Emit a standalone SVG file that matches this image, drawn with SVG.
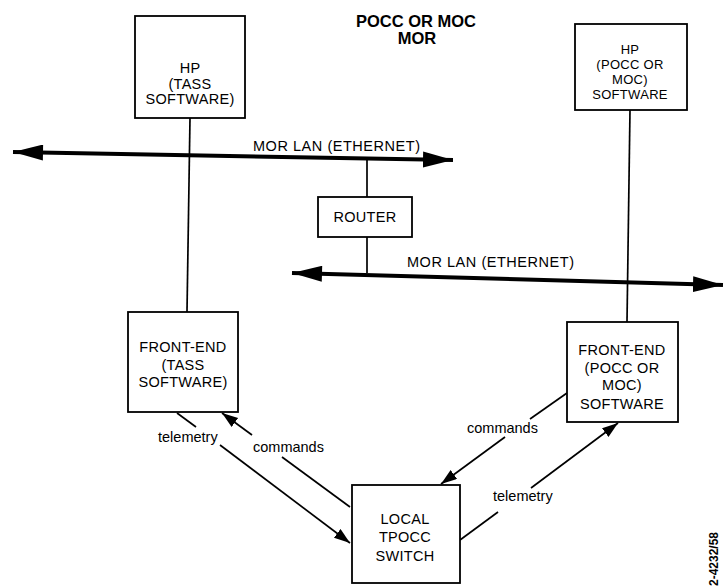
<svg xmlns="http://www.w3.org/2000/svg" width="724" height="588" viewBox="0 0 724 588">
<defs>
<marker id="big" markerUnits="userSpaceOnUse" markerWidth="32" markerHeight="18" refX="30" refY="8" orient="auto">
<path d="M0,0 L30,8 L0,16 Z" fill="#000"/>
</marker>
<marker id="bigs" markerUnits="userSpaceOnUse" markerWidth="32" markerHeight="18" refX="0" refY="8" orient="auto">
<path d="M30,0 L0,8 L30,16 Z" fill="#000"/>
</marker>
<marker id="small" markerUnits="userSpaceOnUse" markerWidth="18" markerHeight="12" refX="16" refY="5.5" orient="auto">
<path d="M0,0 L16,5.5 L0,11 Z" fill="#000"/>
</marker>
</defs>
<style>
.box{fill:#fff;stroke:#000;stroke-width:1.8}
.t{font-family:"Liberation Sans",Arial,sans-serif;font-size:14.5px;fill:#000;text-anchor:middle;letter-spacing:0.3px}
.s{font-size:13px}
.l{font-family:"Liberation Sans",Arial,sans-serif;font-size:14.5px;fill:#000}
.ln{stroke:#000;stroke-width:1.7;fill:none}
.lan{stroke:#000;stroke-width:4;fill:none}
.title{font-family:"Liberation Sans",Arial,sans-serif;font-size:16.5px;font-weight:bold;fill:#000;text-anchor:middle}
</style>
<rect width="724" height="588" fill="#fff"/>
<g id="title">
<text class="title" x="416" y="27">POCC OR MOC</text>
<text class="title" x="417" y="44">MOR</text>
</g>
<g id="connectors">
<line class="ln" x1="190" y1="118" x2="187" y2="312"/>
<line class="ln" x1="630" y1="110" x2="627" y2="322"/>
<line class="ln" x1="367" y1="157" x2="367" y2="197"/>
<line class="ln" x1="367" y1="237" x2="367" y2="273"/>
<line class="lan" x1="13" y1="152" x2="453" y2="160" marker-start="url(#bigs)" marker-end="url(#big)"/>
<line class="lan" x1="292" y1="273" x2="723" y2="285" marker-start="url(#bigs)" marker-end="url(#big)"/>
<text class="l" x="253" y="151" textLength="167">MOR LAN (ETHERNET)</text>
<text class="l" x="407" y="267" textLength="167">MOR LAN (ETHERNET)</text>
<line class="ln" x1="177" y1="413" x2="196" y2="427"/>
<line class="ln" x1="220" y1="445" x2="350" y2="543" marker-end="url(#small)"/>
<text class="l" x="158" y="442">telemetry</text>
<line class="ln" x1="350" y1="507" x2="282" y2="457"/>
<line class="ln" x1="252" y1="435" x2="222" y2="413" marker-end="url(#small)"/>
<text class="l" x="253" y="452">commands</text>
<line class="ln" x1="567" y1="393" x2="530" y2="419"/>
<line class="ln" x1="505" y1="437" x2="441" y2="484" marker-end="url(#small)"/>
<text class="l" x="467" y="433">commands</text>
<line class="ln" x1="460" y1="540" x2="498" y2="512"/>
<line class="ln" x1="531" y1="488" x2="618" y2="423" marker-end="url(#small)"/>
<text class="l" x="493" y="501">telemetry</text>
</g>
<g id="hp-tass">
<rect class="box" x="135" y="16" width="110" height="102"/>
<text class="t" x="190" y="73">HP</text>
<text class="t" x="190" y="89">(TASS</text>
<text class="t" x="190" y="104">SOFTWARE)</text>
</g>
<g id="hp-pocc">
<rect class="box" x="575" y="24" width="112" height="86"/>
<text class="t s" x="630" y="54">HP</text>
<text class="t s" x="630" y="69">(POCC OR</text>
<text class="t s" x="630" y="84">MOC)</text>
<text class="t s" x="630" y="99">SOFTWARE</text>
</g>
<g id="router">
<rect class="box" x="318" y="197" width="94" height="40"/>
<text class="t" x="365" y="222">ROUTER</text>
</g>
<g id="fe-tass">
<rect class="box" x="128" y="312" width="110" height="100"/>
<text class="t" x="183" y="352">FRONT-END</text>
<text class="t" x="183" y="370">(TASS</text>
<text class="t" x="183" y="387">SOFTWARE)</text>
</g>
<g id="fe-pocc">
<rect class="box" x="567" y="322" width="111" height="100"/>
<text class="t" x="622" y="355">FRONT-END</text>
<text class="t" x="622" y="373">(POCC OR</text>
<text class="t" x="622" y="390">MOC)</text>
<text class="t" x="622" y="409">SOFTWARE</text>
</g>
<g id="switch">
<rect class="box" x="352" y="485" width="108" height="98"/>
<text class="t" x="405" y="524">LOCAL</text>
<text class="t" x="405" y="542">TPOCC</text>
<text class="t" x="405" y="561">SWITCH</text>
</g>
<text x="0" y="0" transform="translate(718,586) rotate(-90)" font-family="Liberation Sans, Arial, sans-serif" font-size="12" font-weight="bold" fill="#000">2-4232/58</text>
</svg>
